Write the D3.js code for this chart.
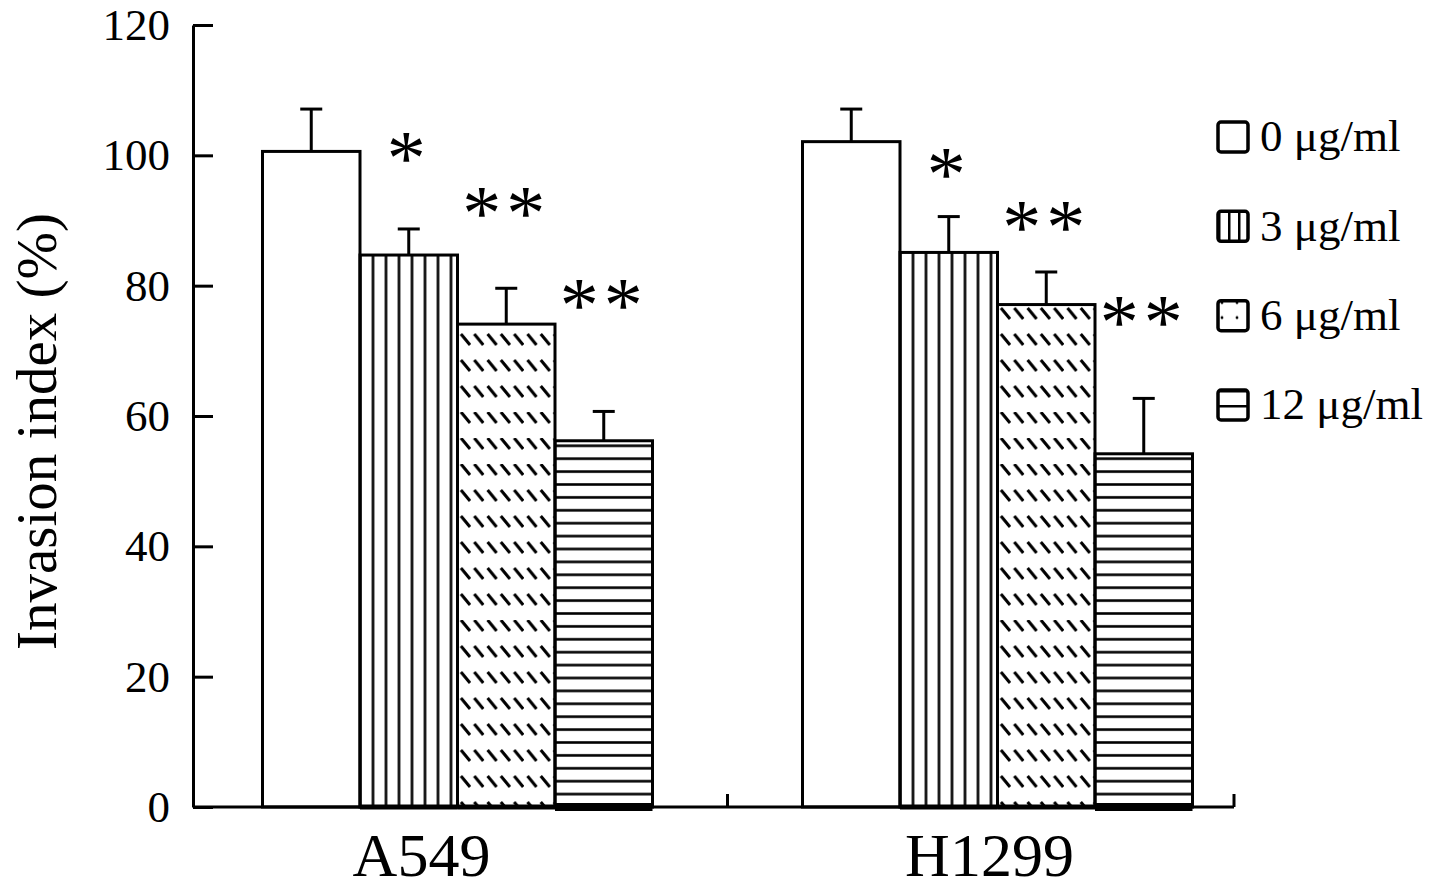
<!DOCTYPE html>
<html>
<head>
<meta charset="utf-8">
<script src="https://cdn.jsdelivr.net/npm/d3@7"></script>
<style>
    body { margin: 0; background: #fff; }
    svg { display: block; font-family: 'Liberation Serif', 'Times New Roman', serif; }
</style>
</head>
<body>
<div class="container"></div>
<script>
let width = 1441
let height = 888
let margin = {
    left: 193,
    top: 25,
    bottom: 81
}
const categories = ['A549', 'H1299']
const doses = ['0 μg/ml', '3 μg/ml', '6 μg/ml', '12 μg/ml']
const a549Means = [100.6, 84.7, 74.1, 56.2]
const a549Errors = [6.5, 4.0, 5.5, 4.5]
const h1299Means = [102.1, 85.1, 77.1, 54.2]
const h1299Errors = [5.0, 5.5, 5.0, 8.5]
const sigMarks = ['', '*', '**', '**']
const a549SigLevels = [null, 101.6, 93.1, 79.0]
const h1299SigLevels = [null, 99.1, 91.0, 76.4]
const yTicks = [0, 20, 40, 60, 80, 100, 120]
const yTitle = 'Invasion index (%)'
const fills = ['white', 'url(#vlines)', 'url(#dashes)', 'url(#hlines)']
const legendFills = ['white', 'url(#lg-vlines)', 'url(#lg-dashes)', 'url(#lg-hlines)']

let data = [
    { cat: categories[0], means: a549Means, errors: a549Errors, sig: a549SigLevels },
    { cat: categories[1], means: h1299Means, errors: h1299Errors, sig: h1299SigLevels }
]

let svg = d3.select('.container')
    .append('svg')
    .attr('width', width)
    .attr('height', height)

let yScale = d3.scaleLinear()
    .domain([0, 120])
    .range([height - margin.bottom, margin.top])

let x0 = d3.scaleBand()
    .domain(categories)
    .range([187.5, 1267.5])

let x1 = d3.scaleBand()
    .domain(doses)
    .range([0, 390])

let groupLeft = (cat) => {
    return x0(cat) + x0.bandwidth() / 2 - 195
}

// fill patterns
let defs = svg.append('defs')
let step = 13
let vp = defs.append('pattern')
    .attr('id', 'vlines')
    .attr('patternUnits', 'userSpaceOnUse')
    .attr('x', x1(doses[1]) - step / 2)
    .attr('width', step)
    .attr('height', 20)
vp.append('line').attr('x1', step / 2).attr('x2', step / 2).attr('y1', 0).attr('y2', 20)
    .attr('stroke', '#000').attr('stroke-width', 2.6)

let hp = defs.append('pattern')
    .attr('id', 'hlines')
    .attr('patternUnits', 'userSpaceOnUse')
    .attr('y', yScale(0) - 12.9 / 2)
    .attr('width', 20)
    .attr('height', 12.9)
hp.append('line').attr('x1', 0).attr('x2', 20).attr('y1', 12.9 / 2).attr('y2', 12.9 / 2)
    .attr('stroke', '#000').attr('stroke-width', 2.6)

let dp = defs.append('pattern')
    .attr('id', 'dashes')
    .attr('patternUnits', 'userSpaceOnUse')
    .attr('x', x1(doses[2]))
    .attr('y', yScale(0) - 6)
    .attr('width', 13.3)
    .attr('height', 26)
dp.append('line').attr('x1', 3.5).attr('y1', 1).attr('x2', 12.5).attr('y2', 12)
    .attr('stroke', '#000').attr('stroke-width', 3)

let lv = defs.append('pattern')
    .attr('id', 'lg-vlines')
    .attr('patternUnits', 'objectBoundingBox')
    .attr('width', 1 / 3)
    .attr('height', 1)
lv.append('line').attr('x1', 0).attr('x2', 0).attr('y1', 0).attr('y2', 40)
    .attr('stroke', '#000').attr('stroke-width', 5)

let lh = defs.append('pattern')
    .attr('id', 'lg-hlines')
    .attr('patternUnits', 'objectBoundingBox')
    .attr('width', 1)
    .attr('height', 1 / 2)
lh.append('line').attr('x1', 0).attr('x2', 40).attr('y1', 0).attr('y2', 0)
    .attr('stroke', '#000').attr('stroke-width', 5)

let ld = defs.append('pattern')
    .attr('id', 'lg-dashes')
    .attr('patternUnits', 'objectBoundingBox')
    .attr('width', 1 / 2)
    .attr('height', 1 / 2)
ld.append('circle').attr('cx', 4).attr('cy', 2).attr('r', 1.4).attr('fill', '#000')

// bars
let groups = svg.selectAll('.group')
    .data(data)
    .enter()
    .append('g')
    .attr('class', 'group')
    .attr('transform', (d) => {
        return `translate(${groupLeft(d.cat)},0)`
    })

let bars = groups.selectAll('.bar')
    .data((d) => {
        return doses.map((dose, i) => {
            return { dose: dose, i: i, mean: d.means[i], err: d.errors[i], sig: d.sig[i] }
        })
    })
    .enter()
    .append('g')
    .attr('class', 'bar')

bars.append('line')
    .attr('x1', (d) => x1(d.dose) + x1.bandwidth() / 2)
    .attr('x2', (d) => x1(d.dose) + x1.bandwidth() / 2)
    .attr('y1', (d) => yScale(d.mean))
    .attr('y2', (d) => yScale(d.mean + d.err))
    .attr('stroke', '#000')
    .attr('stroke-width', 3)

bars.append('line')
    .attr('x1', (d) => x1(d.dose) + x1.bandwidth() / 2 - 11)
    .attr('x2', (d) => x1(d.dose) + x1.bandwidth() / 2 + 11)
    .attr('y1', (d) => yScale(d.mean + d.err))
    .attr('y2', (d) => yScale(d.mean + d.err))
    .attr('stroke', '#000')
    .attr('stroke-width', 3)

bars.append('rect')
    .attr('x', (d) => x1(d.dose))
    .attr('y', (d) => yScale(d.mean))
    .attr('width', x1.bandwidth())
    .attr('height', (d) => yScale(0) - yScale(d.mean))
    .attr('fill', (d) => fills[d.i])
    .attr('stroke', '#000')
    .attr('stroke-width', 3)

bars.filter((d) => d.i > 0)
    .append('line')
    .attr('x1', (d) => x1(d.dose))
    .attr('x2', (d) => x1(d.dose) + x1.bandwidth())
    .attr('y1', yScale(0))
    .attr('y2', yScale(0))
    .attr('stroke', '#000')
    .attr('stroke-width', (d) => d.i === 3 ? 8 : 5)

bars.filter((d) => d.sig !== null)
    .append('text')
    .attr('x', (d) => x1(d.dose) + x1.bandwidth() / 2)
    .attr('y', (d) => yScale(d.sig))
    .attr('dy', '0.5em')
    .attr('text-anchor', 'middle')
    .attr('font-size', 78)
    .attr('letter-spacing', 5)
    .text((d) => sigMarks[d.i])

// axes
let yAxis = d3.axisLeft(yScale)
    .tickValues(yTicks)
    .tickSizeInner(-20)
    .tickSizeOuter(0)
    .tickPadding(23)

let yg = svg.append('g')
    .attr('class', 'y axis')
    .attr('transform', `translate(${margin.left},0)`)
    .call(yAxis)
yg.selectAll('path, line').attr('stroke', '#000').attr('stroke-width', 3)
yg.selectAll('text')
    .attr('font-family', "'Liberation Serif', serif")
    .attr('font-size', 45)
    .attr('fill', '#000')

let axisEnd = 1234
let xg = svg.append('g').attr('class', 'x axis')
xg.append('line')
    .attr('x1', margin.left)
    .attr('x2', axisEnd)
    .attr('y1', yScale(0))
    .attr('y2', yScale(0))
    .attr('stroke', '#000')
    .attr('stroke-width', 3)
xg.selectAll('.tick')
    .data([x0(categories[1]), axisEnd])
    .enter()
    .append('line')
    .attr('x1', (d) => d)
    .attr('x2', (d) => d)
    .attr('y1', yScale(0))
    .attr('y2', yScale(0) - 13)
    .attr('stroke', '#000')
    .attr('stroke-width', 3)
xg.selectAll('.cat')
    .data(categories)
    .enter()
    .append('text')
    .attr('x', (d, i) => x0(d) + x0.bandwidth() / 2 - (i === 0 ? 36 : 8))
    .attr('y', 876)
    .attr('text-anchor', 'middle')
    .attr('font-size', 62)
    .text((d) => d)

svg.append('text')
    .attr('transform', `translate(56,${(648 + 215) / 2}) rotate(-90)`)
    .attr('text-anchor', 'middle')
    .attr('font-size', 57)
    .text(yTitle)

// legend
let legendY = d3.scalePoint()
    .domain(doses)
    .range([137, 405])

let legend = svg.append('g').attr('class', 'legend')
let rows = legend.selectAll('g')
    .data(doses)
    .enter()
    .append('g')
    .attr('transform', (d) => `translate(1218,${legendY(d)})`)

rows.append('rect')
    .attr('x', 0)
    .attr('y', -15)
    .attr('width', 30)
    .attr('height', 30)
    .attr('rx', 3)
    .attr('fill', (d, i) => legendFills[i])
    .attr('stroke', '#000')
    .attr('stroke-width', 3.5)

rows.append('text')
    .attr('x', 42)
    .attr('y', 0)
    .attr('dy', '0.32em')
    .attr('font-size', 45)
    .text((d) => d)
</script>
</body>
</html>
